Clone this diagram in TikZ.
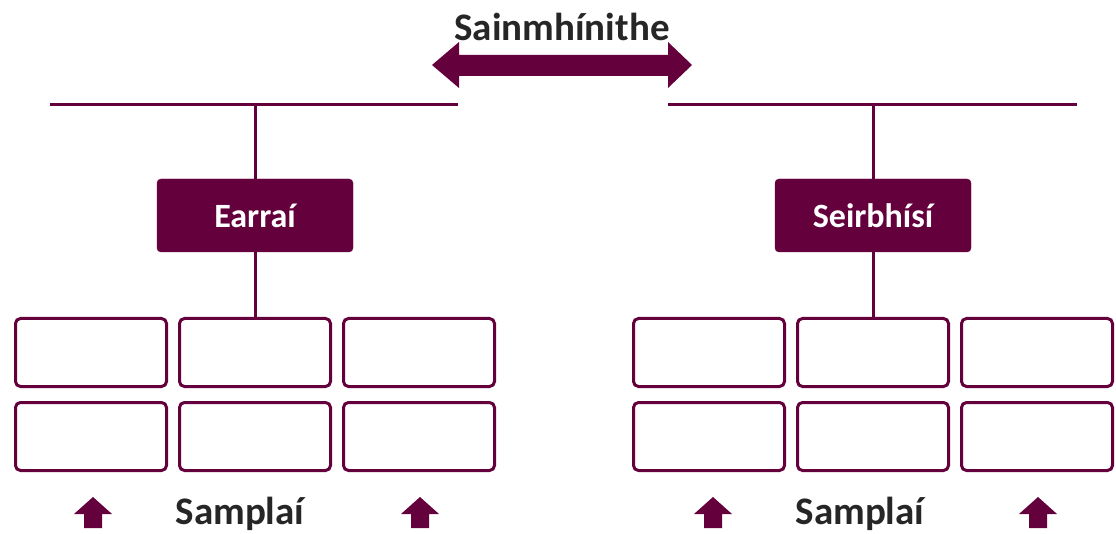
\documentclass[tikz,border=0pt]{standalone}
\usepackage{fontspec}
\setmainfont{Carlito}
\usetikzlibrary{positioning}
\definecolor{plum}{RGB}{100,0,60}
\definecolor{ink}{RGB}{38,38,38}
\tikzstyle{head} = [rectangle,
			fill = plum,
			draw = plum,
			rounded corners = 4pt,
			text = white,
			font = \fontsize{34}{38}\selectfont\bfseries,
			minimum width = 196pt,
			minimum height = 73pt]
\tikzstyle{cell} = [rectangle,
			draw = plum,
			line width = 3pt,
			rounded corners = 5pt,
			minimum width = 151pt,
			minimum height = 68pt]
\tikzstyle{title} = [text = ink,
			inner sep = 0pt,
			font = \fontsize{39}{44}\selectfont\bfseries]
\tikzstyle{bar} = [draw = plum, line width = 3pt]

\begin{document}
\begin{tikzpicture}[x = 1pt, y = -1pt, node distance = 13pt and 10pt]
	\useasboundingbox (0,0) rectangle (1116,534);
	% top label and double arrow
	\node [title] (defs) at (562,27) {Sainmhínithe};
	\fill [plum] (432,65) -- (459,42) -- (459,55) -- (668,55) -- (668,42)
		-- (692,65) -- (668,88) -- (668,76) -- (459,76) -- (459,88) -- cycle;
	% horizontal rules
	\coordinate (lrule1) at (50,105);
	\coordinate (lrule2) at (458,105);
	\coordinate (rrule1) at (668,105);
	\coordinate (rrule2) at (1077,105);
	\coordinate (ltop) at (255,105);
	\coordinate (rtop) at (873,105);
	\draw [bar] (lrule1) -- (lrule2);
	\draw [bar] (rrule1) -- (rrule2);
	% category boxes
	\node [head] (goods) at (255,215.5) {Earraí};
	\node [head] (services) at (873,215.5) {Seirbhísí};
	% left grid
	\node [cell] (g12) at (255,352.5) {};
	\node [cell, left=of g12] (g11) {};
	\node [cell, right=of g12] (g13) {};
	\node [cell, below=of g11] (g21) {};
	\node [cell, below=of g12] (g22) {};
	\node [cell, below=of g13] (g23) {};
	% right grid
	\node [cell] (s12) at (873,352.5) {};
	\node [cell, left=of s12] (s11) {};
	\node [cell, right=of s12] (s13) {};
	\node [cell, below=of s11] (s21) {};
	\node [cell, below=of s12] (s22) {};
	\node [cell, below=of s13] (s23) {};
	% connectors
	\draw [bar] (ltop) -- (goods);
	\draw [bar] (goods) -- (g12);
	\draw [bar] (rtop) -- (services);
	\draw [bar] (services) -- (s12);
	% examples
	\node [title] (lex) at (240,514) {Samplaí};
	\node [title] (rex) at (860,514) {Samplaí};
	\foreach \x in {93, 420, 713, 1038}
		\fill [plum] (\x-19,514) -- (\x,497) -- (\x+19,514) -- (\x+9,514)
			-- (\x+9,528) -- (\x-9,528) -- (\x-9,514) -- cycle;
\end{tikzpicture}
\end{document}
